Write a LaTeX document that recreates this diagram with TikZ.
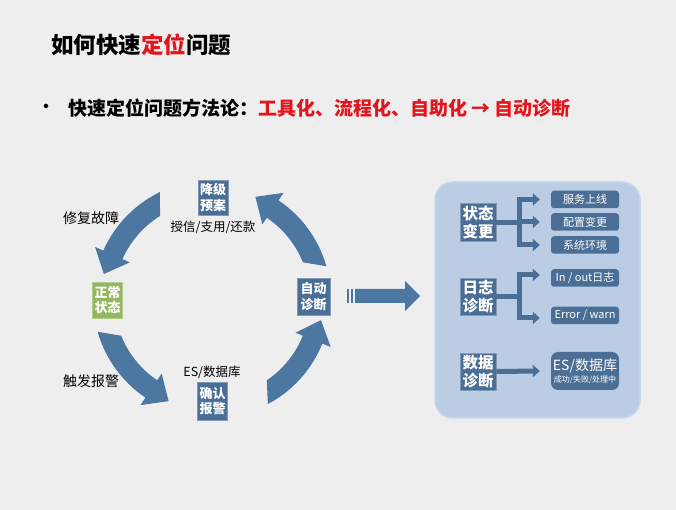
\documentclass[tikz,border=0pt]{standalone}
\usepackage{fontspec}
\usetikzlibrary{arrows.meta}
\newfontfamily\cjk{Noto Sans CJK SC}
\newfontfamily\song{Noto Sans CJK SC}
\definecolor{bg}{HTML}{EEEEEE}
\definecolor{boxblue}{HTML}{4B6E96}
\definecolor{arrowblue}{HTML}{4B77A1}
\definecolor{okgreen}{HTML}{93B75C}
\definecolor{panelblue}{HTML}{BACDE4}
\definecolor{panelrim}{HTML}{C8D7EA}
\definecolor{titlered}{HTML}{E3141B}
\newcommand\cyclearrow[1]{%
  \fill[arrowblue, shift={(212,211)}] ({#1-3}:119pt) arc[start angle={#1-3}, end angle={#1+37}, radius=119pt]
    -- ({#1+37}:128pt) -- ({#1+48}:111pt) -- ({#1+37}:90pt) -- ({#1+37}:98pt)
    arc[start angle={#1+37}, end angle={#1+3}, radius=98pt] -- cycle;}
\begin{document}
\begin{tikzpicture}[x=1pt,y=1pt,
  darkbox/.style={fill=boxblue, draw=boxblue!70!white, line width=0.6pt, text=white,
    font=\cjk\bfseries\fontsize{13}{15.5}\selectfont, align=center, inner sep=1pt,
    minimum width=30pt, minimum height=35pt},
  bigbox/.style={darkbox, font=\cjk\bfseries\fontsize{15.5}{18}\selectfont, minimum width=36pt, minimum height=38pt},
  lbl/.style={font=\song\fontsize{13}{15}\selectfont, text=black, inner sep=0pt},
  smallbox/.style={fill=boxblue, rounded corners=3pt, text=white, font=\song\fontsize{11}{13}\selectfont,
    minimum width=68pt, minimum height=17.5pt, inner sep=0pt, align=center},
  conn/.style={draw=boxblue, line width=5pt},
  tipconn/.style={conn, -{Triangle[width=12pt,length=7pt]}}]
\useasboundingbox (0,0) rectangle (676,510);
\fill[bg] (0,0) rectangle (676,510);

% title and subtitle
\node[anchor=west, inner sep=0pt, font=\cjk\bfseries\fontsize{22.5}{26}\selectfont] (title) at (51,465)
  {如何快速{\color{titlered}定位}问题};
\node[inner sep=0pt, font=\cjk\bfseries\fontsize{16}{18}\selectfont] (bullet) at (46,402) {•};
\node[anchor=west, inner sep=0pt, font=\cjk\bfseries\fontsize{19}{22}\selectfont] (sub) at (68,402)
  {快速定位问题方法论：{\color{titlered}工具化、流程化、自助化 → 自动诊断}};

% cycle arrows
\cyclearrow{119}
\cyclearrow{19}
\cyclearrow{199}
\cyclearrow{301}

% cycle boxes
\node[darkbox] (jj) at (213,312.5) {降级\\预案};
\node[darkbox, fill=okgreen, draw=okgreen!70!white, minimum height=36pt] (zc) at (107.5,210) {正常\\状态};
\node[darkbox, minimum height=38pt] (qr) at (212.5,109) {确认\\报警};
\node[darkbox, minimum width=33pt, minimum height=37pt] (zd) at (313.5,213.5) {自动\\诊断};

\node[lbl, font=\song\fontsize{12.5}{14}\selectfont] (sx) at (213,283) {授信/支用/还款};
\node[lbl, font=\song\fontsize{14}{16}\selectfont] (xf) at (91,292) {修复故障};
\node[lbl, font=\song\fontsize{14}{16}\selectfont] (cf) at (91,129) {触发报警};
\node[lbl, font=\song\fontsize{12.5}{14}\selectfont] (es) at (212,138) {ES/数据库};

% big right arrow
\fill[arrowblue] (347,207) rectangle (349,221);
\fill[arrowblue] (351,207) rectangle (353,221);
\fill[arrowblue] (355,207) -- (405,207) -- (405,199) -- (420,214) -- (405,229) -- (405,221) -- (355,221) -- cycle;

% panel
\filldraw[fill=panelblue, draw=panelrim, line width=1.5pt, rounded corners=18pt] (435,92) rectangle (640,328);

\node[bigbox] (zt) at (478,287.5) {状态\\变更};
\node[bigbox, minimum height=37pt] (rz) at (478,213.5) {日志\\诊断};
\node[bigbox, minimum height=37pt] (sj) at (478,138.5) {数据\\诊断};

\node[smallbox] (fw) at (585,310.5) {服务上线};
\node[smallbox] (pz) at (585,288) {配置变更};
\node[smallbox] (xt) at (585,265) {系统环境};
\node[smallbox] (io) at (585,232) {In / out日志};
\node[smallbox] (ew) at (585,194.5) {Error / warn};
\node[smallbox, rounded corners=7pt, minimum height=38pt] (ed) at (585,139)
  {{\fontsize{14}{16}\selectfont ES/数据库}\\[-1pt]{\fontsize{8}{9}\selectfont 成功/失败/处理中}};

% connectors
\coordinate (zj) at (519.5,287.5);
\draw[conn] (zt.east) -- (zj);
\draw[conn, line cap=rect] (zj |- fw.west) -- (zj |- xt.west);
\draw[tipconn] (zj |- fw.west) -- ([xshift=-11pt]fw.west);
\draw[tipconn] (zj |- pz.west) -- ([xshift=-11pt]pz.west);
\draw[tipconn] (zj |- xt.west) -- ([xshift=-11pt]xt.west);

\coordinate (rj) at (519.5,213.5);
\coordinate (rt) at (519.5,235);
\coordinate (rb) at (519.5,192);
\draw[conn] (rz.east) -- (rj);
\draw[conn, line cap=rect] (rt) -- (rb);
\draw[tipconn] (rt) -- ([xshift=-11pt]io.west |- rt);
\draw[tipconn] (rb) -- ([xshift=-11pt]ew.west |- rb);

\draw[tipconn] (sj.east) -- ([xshift=-11pt]ed.west);
\end{tikzpicture}
\end{document}
